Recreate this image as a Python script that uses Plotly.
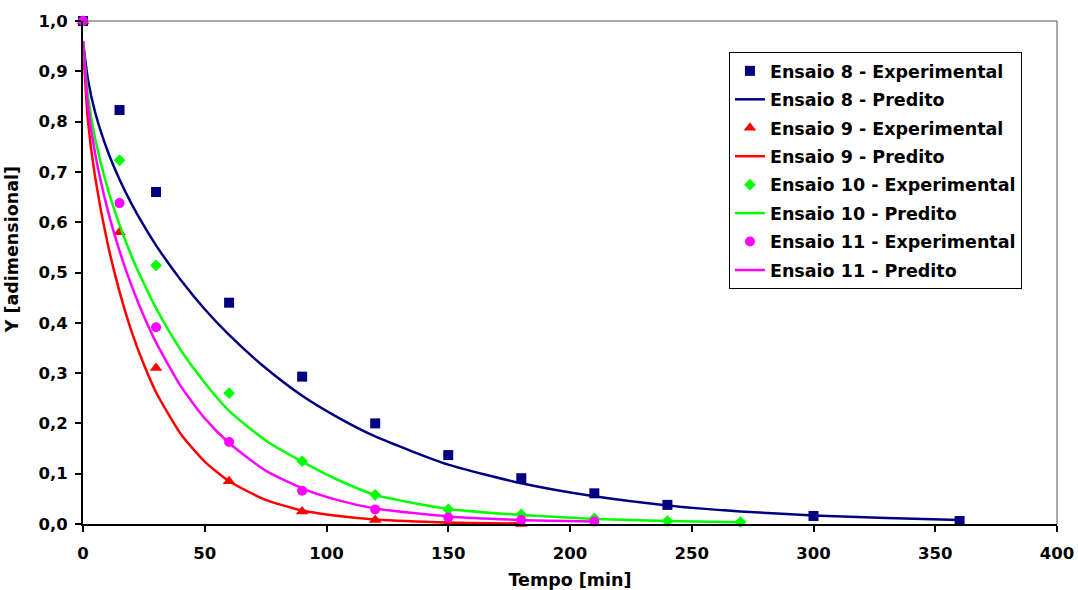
import plotly.graph_objects as go

# Experimental drying data (dimensionless moisture ratio Y vs time)
t_exp8 = [0, 15, 30, 60, 90, 120, 150, 180, 210, 240, 300, 360]
y_exp8 = [1.0, 0.823, 0.660, 0.440, 0.293, 0.200, 0.137, 0.091, 0.061, 0.038, 0.016, 0.006]

t_exp9 = [0, 15, 30, 60, 90, 120, 150, 180]
y_exp9 = [1.0, 0.580, 0.310, 0.085, 0.025, 0.008, 0.002, 0.0]

t_exp10 = [0, 15, 30, 60, 90, 120, 150, 180, 210, 240, 270]
y_exp10 = [1.0, 0.723, 0.514, 0.260, 0.125, 0.058, 0.029, 0.019, 0.011, 0.006, 0.004]

t_exp11 = [0, 15, 30, 60, 90, 120, 150, 180, 210]
y_exp11 = [1.0, 0.638, 0.391, 0.163, 0.066, 0.029, 0.013, 0.008, 0.005]

# Predicted curves
t_pred = [0, 2, 5, 10, 15, 20, 25, 30, 40, 50, 60, 75, 90, 105, 120,
          150, 180, 210, 240, 270, 300, 330, 360]
y_pred8 = [0.960, 0.885, 0.818, 0.743, 0.685, 0.636, 0.593, 0.554, 0.486, 0.427,
           0.376, 0.310, 0.255, 0.211, 0.174, 0.118, 0.081, 0.055, 0.037, 0.025,
           0.017, 0.012, 0.008]
y_pred9 = [0.960, 0.803, 0.689, 0.560, 0.462, 0.382, 0.317, 0.262, 0.180, 0.124,
           0.085, 0.048, 0.027, 0.016, 0.009, 0.003, 0.001]
y_pred10 = [0.960, 0.852, 0.766, 0.669, 0.595, 0.532, 0.478, 0.429, 0.347, 0.281,
            0.225, 0.166, 0.124, 0.087, 0.058, 0.030, 0.018, 0.010, 0.006, 0.0035]
y_pred11 = [0.960, 0.833, 0.736, 0.627, 0.543, 0.473, 0.413, 0.361, 0.275, 0.210,
            0.161, 0.106, 0.071, 0.047, 0.031, 0.015, 0.008, 0.005]

x_ticks = [0, 50, 100, 150, 200, 250, 300, 350, 400]
y_ticks = [0.0, 0.1, 0.2, 0.3, 0.4, 0.5, 0.6, 0.7, 0.8, 0.9, 1.0]

FONT = "DejaVu Sans"

series = [
    ("Ensaio 8", "#000080", "square", 10, t_exp8, y_exp8, y_pred8),
    ("Ensaio 9", "#FF0000", "triangle-up", 11, t_exp9, y_exp9, y_pred9),
    ("Ensaio 10", "#00FF00", "diamond", 9, t_exp10, y_exp10, y_pred10),
    ("Ensaio 11", "#FF00FF", "circle", 10, t_exp11, y_exp11, y_pred11),
]

fig = go.Figure()
for i, (name, color, symbol, msize, tx, ty, yp) in enumerate(series):
    fig.add_trace(go.Scatter(
        x=tx, y=ty, mode="markers", name=f"{name} - Experimental",
        legendgroup=f"g{2 * i}",
        marker=dict(symbol=symbol, size=msize, color=color, line=dict(width=0)),
        cliponaxis=False,
    ))
    fig.add_trace(go.Scatter(
        x=t_pred[:len(yp)], y=yp, mode="lines", name=f"{name} - Predito",
        legendgroup=f"g{2 * i + 1}",
        line=dict(color=color, width=2.5, shape="spline", smoothing=0.6),
        cliponaxis=False,
    ))

tick_font = dict(family=FONT, size=16.5, color="black", weight="bold")
title_font = dict(family=FONT, size=17.5, color="black", weight="bold")

fig.update_layout(
    width=1078, height=590,
    margin=dict(l=83, r=21, t=21, b=66, autoexpand=False),
    paper_bgcolor="white", plot_bgcolor="white",
    separators=", ",
    showlegend=True,
    legend=dict(
        x=0.6632, y=0.9384, xanchor="left", yanchor="top",
        bgcolor="white", bordercolor="black", borderwidth=1,
        font=dict(family=FONT, size=17.5, color="black", weight="bold"),
        traceorder="grouped", tracegroupgap=2.7,
    ),
    xaxis=dict(
        range=[0, 400], tickvals=x_ticks, ticks="outside", ticklen=6,
        tickwidth=1.5, tickcolor="black", showline=True, linecolor="black",
        linewidth=2, showgrid=False, zeroline=False, tickfont=tick_font,
        ticklabelstandoff=7, automargin=False,
        title=dict(text="Tempo [min]", font=title_font, standoff=13),
    ),
    yaxis=dict(
        range=[0, 1], tickvals=y_ticks, tickformat=".1f", ticks="outside",
        ticklen=6, tickwidth=1.5, tickcolor="black", showline=True,
        linecolor="black", linewidth=2, showgrid=False, zeroline=False,
        tickfont=tick_font, ticklabelstandoff=4, automargin=False,
    ),
    annotations=[dict(
        text="Y [adimensional]", textangle=-90, showarrow=False,
        xref="paper", yref="paper", x=0, y=0.544, xanchor="center",
        yanchor="middle", xshift=-71, font=title_font,
    )],
    shapes=[
        dict(type="line", xref="paper", yref="paper", x0=0, x1=1, y0=1, y1=1,
             line=dict(color="#555555", width=1)),
        dict(type="line", xref="paper", yref="paper", x0=1, x1=1, y0=0, y1=1,
             line=dict(color="#555555", width=1)),
    ],
)

fig.write_html("out.html")
